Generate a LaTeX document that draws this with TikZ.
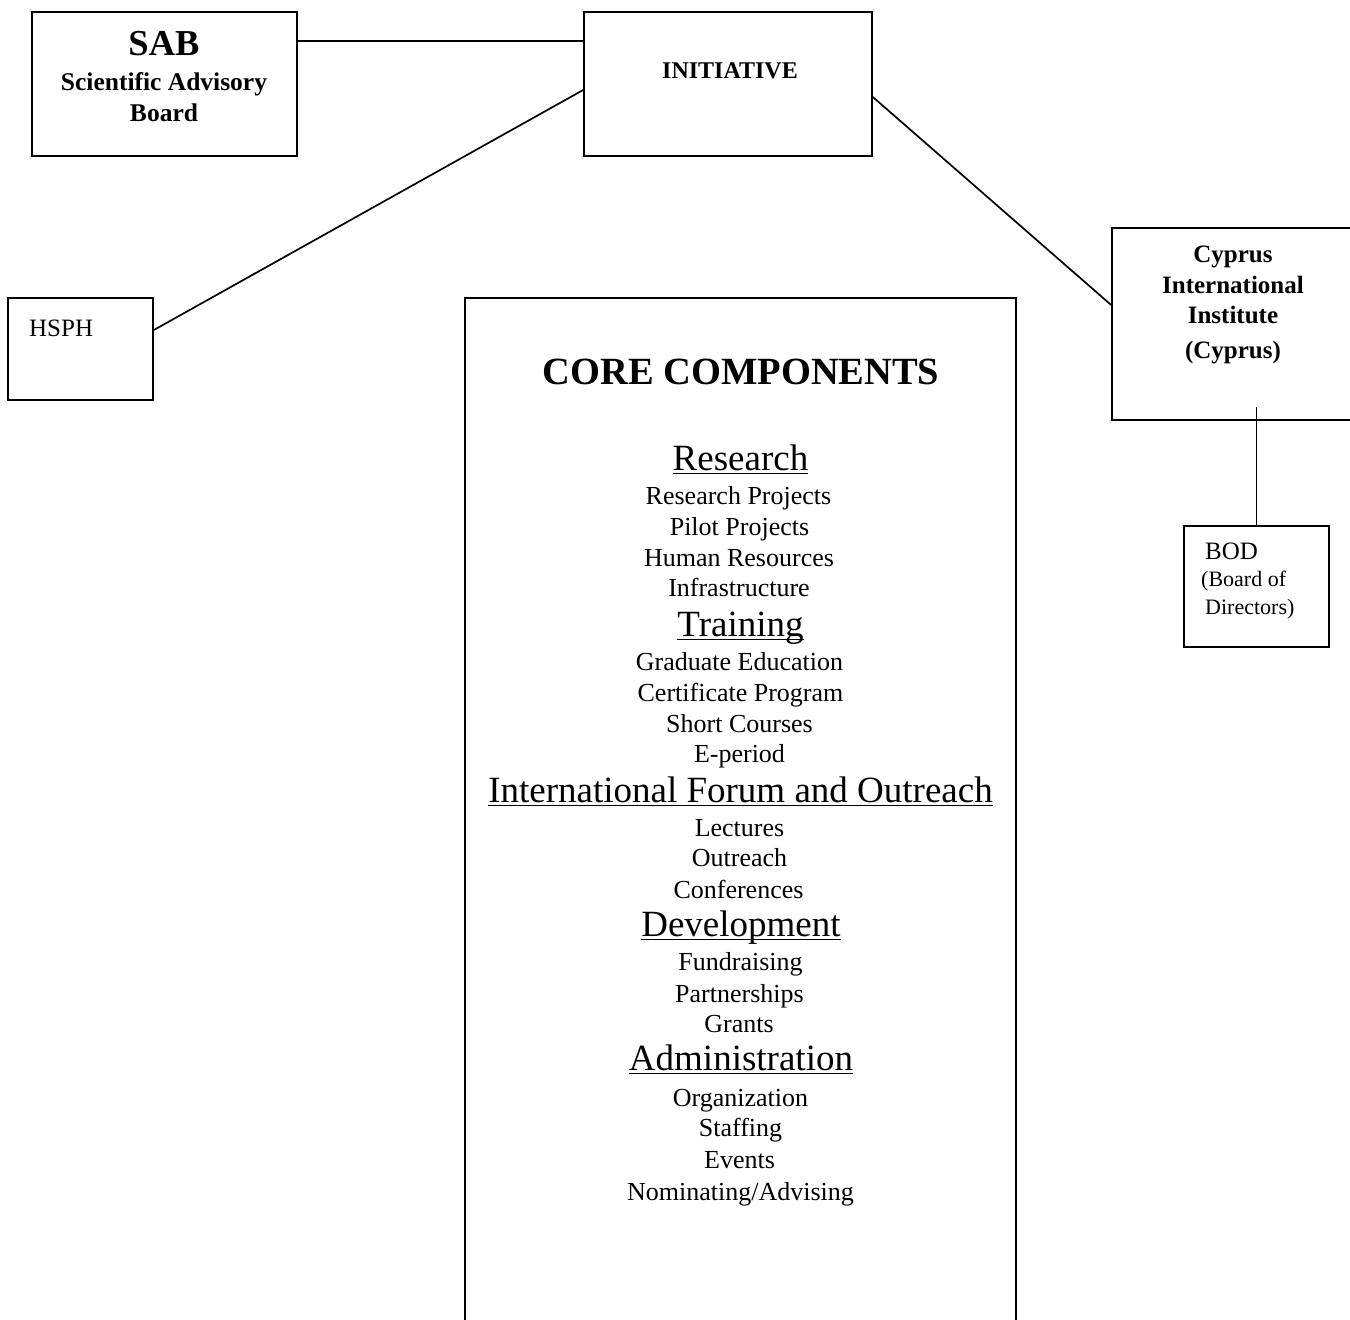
\documentclass[tikz,border=0pt]{standalone}
\usepackage{fontspec}
\setmainfont{Liberation Serif}
\newcommand\myul[1]{\setbox0\hbox{#1}\rlap{\rule[-4pt]{\wd0}{1.6pt}}\box0}
\begin{document}
\begin{tikzpicture}[x=1pt,y=-1pt,
  box/.style={draw, line width=1.7pt, inner sep=0pt},
  conn/.style={line width=1.7pt},
  txt/.style={inner sep=0pt, text depth=0pt, anchor=center},
  body/.style={txt, text height=17.2pt, font=\fontsize{26}{30}\selectfont},
  head/.style={txt, text height=24.5pt, font=\fontsize{37}{42}\selectfont},
  bbody/.style={txt, text height=16.6pt, font=\bfseries\fontsize{25}{30}\selectfont},
  small/.style={txt, anchor=west, text height=14.6pt, font=\fontsize{22}{26}\selectfont}]
\useasboundingbox (0,0) rectangle (1350,1320);
\clip (0,0) rectangle (1350,1320);
% boxes
\node[box, minimum width=265pt, minimum height=144pt] (sab) at (164.5,84) {};
\node[box, minimum width=288pt, minimum height=144pt] (ini) at (728,84) {};
\node[box, minimum width=145pt, minimum height=102pt] (hsph) at (80.5,349) {};
\node[box, minimum width=250pt, minimum height=192pt] (cyp) at (1237,324) {};
\node[box, minimum width=145pt, minimum height=121pt] (bod) at (1256.5,586.5) {};
\node[box, minimum width=551pt, minimum height=1040pt] (core) at (740.5,818) {};
% connectors
\draw[conn] ([yshift=43pt]sab.east) -- ([yshift=43pt]ini.west);
\draw[conn] ([yshift=19pt]hsph.east) -- ([yshift=-6pt]ini.west);
\draw[conn] ([yshift=-13pt]ini.east) -- ([yshift=19pt]cyp.west);
\coordinate (cypin) at (1256.5,407);
\draw[conn] (cypin) -- (bod.north);
% SAB text
\node[txt, text height=24.2pt, font=\bfseries\fontsize{36.5}{40}\selectfont] (tsab) at (164,43.5) {SAB};
\node[bbody, text height=16.9pt, font=\bfseries\fontsize{25.5}{30}\selectfont] (tsab2) at (164,82) {Scientific Advisory};
\node[bbody, text height=16.9pt, font=\bfseries\fontsize{25.5}{30}\selectfont] (tsab3) at (164,113) {Board};
% INITIATIVE
\node[txt, text height=15.9pt, font=\bfseries\fontsize{24}{28}\selectfont] (tini) at (730,71) {INITIATIVE};
% HSPH
\node[txt, anchor=west, text height=16.6pt, font=\fontsize{25}{30}\selectfont] (thsph) at (29,328) {HSPH};
% Cyprus
\node[bbody] (tc1) at (1233,254) {Cyprus};
\node[bbody] (tc2) at (1233,285) {International};
\node[bbody] (tc3) at (1233,315) {Institute};
\node[bbody] (tc4) at (1233,350) {(Cyprus)};
% BOD
\node[txt, anchor=west, text height=16.6pt, font=\fontsize{25}{30}\selectfont] (tb1) at (1205,551) {BOD};
\node[small] (tb2) at (1201,579) {(Board of};
\node[small] (tb3) at (1205,607) {Directors)};
% core components
\node[txt, text height=25.5pt, font=\bfseries\fontsize{38.5}{44}\selectfont] (tcore) at (741,372) {CORE COMPONENTS};
\node[head] (h1) at (740.5,458) {\myul{Research}};
\node[body] (r1) at (738.5,496) {Research Projects};
\node[body] (r2) at (739.5,527) {Pilot Projects};
\node[body] (r3) at (739,558) {Human Resources};
\node[body] (r4) at (739,588) {Infrastructure};
\node[head] (h2) at (740.5,624) {\myul{Training}};
\node[body] (t1) at (739.5,662) {Graduate Education};
\node[body] (t2) at (740.5,693) {Certificate Program};
\node[body] (t3) at (739.5,724) {Short Courses};
\node[body] (t4) at (739.5,754) {E-period};
\node[head] (h3) at (740.5,790) {\myul{International Forum and Outreach}};
\node[body] (i1) at (739.5,828) {Lectures};
\node[body] (i2) at (739.5,858) {Outreach};
\node[body] (i3) at (738.5,890) {Conferences};
\node[head] (h4) at (741,924) {\myul{Development}};
\node[body] (d1) at (740.5,962) {Fundraising};
\node[body] (d2) at (739.5,994) {Partnerships};
\node[body] (d3) at (739,1024) {Grants};
\node[head] (h5) at (741,1058) {\myul{Administration}};
\node[body] (a1) at (740.5,1098) {Organization};
\node[body] (a2) at (740.5,1128) {Staffing};
\node[body] (a3) at (739.5,1160) {Events};
\node[body] (a4) at (740.5,1192) {Nominating/Advising};
\end{tikzpicture}
\end{document}
